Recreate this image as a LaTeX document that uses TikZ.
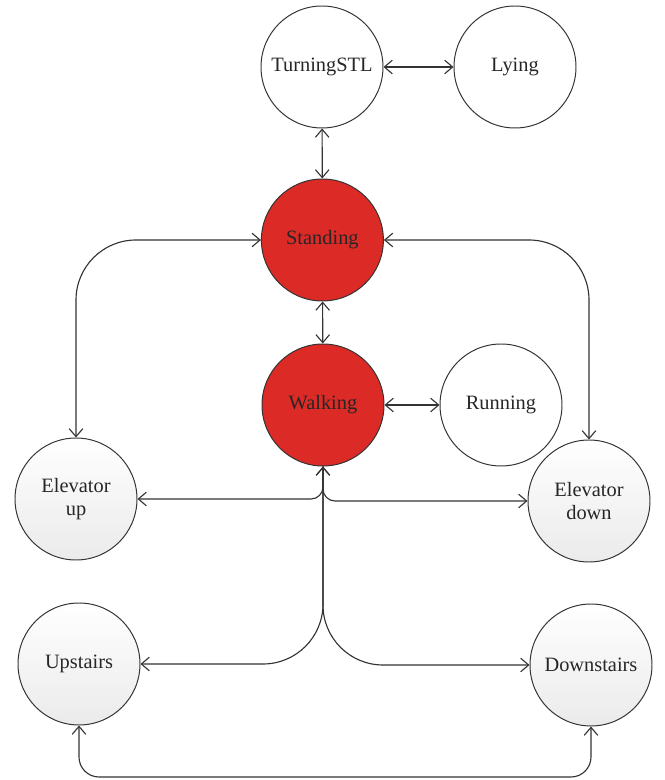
\documentclass[tikz,border=0pt]{standalone}
\usepackage{fontspec}
\setmainfont{Liberation Serif}
\usetikzlibrary{arrows.meta}
\definecolor{actred}{HTML}{DC2A27}
\definecolor{linegray}{HTML}{333333}
\begin{document}
\begin{tikzpicture}[
    state/.style={circle, draw=linegray, line width=0.7pt, minimum size=3.05cm,
      inner sep=0pt, align=center, font=\fontsize{14.5}{16}\selectfont, text=black!85},
    active/.style={state, fill=actred},
    floor/.style={state, top color=white, bottom color=black!8},
    link/.style={draw=linegray, line width=0.8pt, {Straight Barb[length=2mm,width=3.4mm]}-{Straight Barb[length=2mm,width=3.4mm]}},
    oneway/.style={draw=linegray, line width=0.8pt, -{Straight Barb[length=2mm,width=3.4mm]}}]
    \useasboundingbox (0,0) rectangle (16.625,19.5);
    \node[state] (turn) at (8.05,17.825) {TurningSTL};
    \node[state] (lying) at (12.875,17.825) {Lying};
    \node[active] (stand) at (8.06,13.5) {Standing};
    \node[active] (walk) at (8.075,9.375) {Walking};
    \node[state] (run) at (12.525,9.375) {Running};
    \node[floor] (eup) at (1.9,7.025) {Elevator\\up};
    \node[floor] (edown) at (14.725,6.975) {Elevator\\down};
    \node[floor] (up) at (1.975,2.9) {Upstairs};
    \node[floor] (down) at (14.775,2.875) {Downstairs};
    \coordinate (bot) at (8.0,0.075);
    \draw[link] (turn) -- (lying);
    \draw[link] (turn) -- (stand);
    \draw[link] (stand) -- (walk);
    \draw[link] (walk) -- (run);
    \draw[link, rounded corners=1.5cm] (eup.north) |- (stand.west);
    \draw[link, rounded corners=1.5cm] (edown.north) |- (stand.east);
    \draw[link, rounded corners=0.3cm] (walk.south) |- (eup.east);
    \draw[link, rounded corners=0.3cm] (walk.south) |- (edown.west);
    \draw[oneway, rounded corners=1.5cm] (walk.south) |- (up.east);
    \draw[oneway, rounded corners=1.5cm] (walk.south) |- (down.west);
    \draw[link, rounded corners=0.5cm] (up.south) -- (up.south |- bot) -| (down.south);
\end{tikzpicture}
\end{document}
